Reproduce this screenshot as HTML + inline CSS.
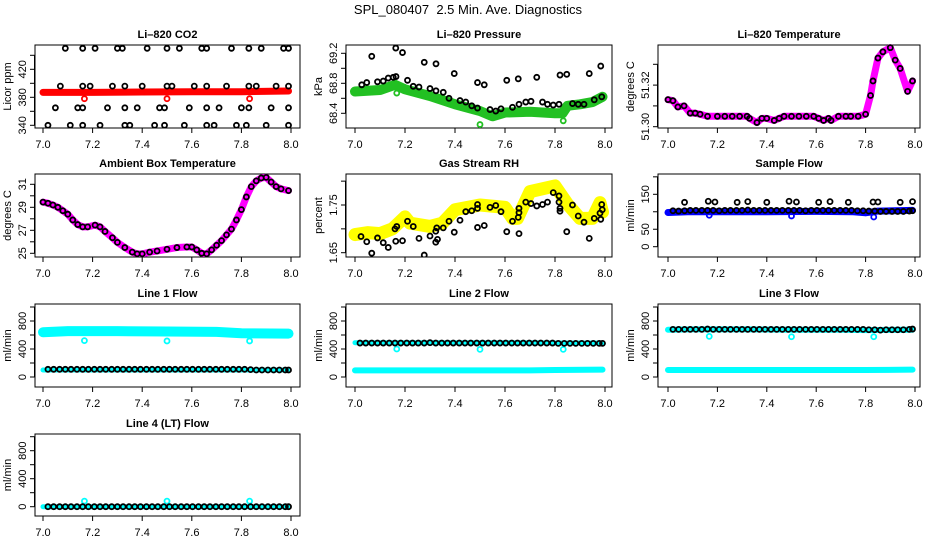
<!DOCTYPE html>
<html><head><meta charset="utf-8">
<style>
html,body{margin:0;padding:0;background:#fff;}
svg{display:block;font-family:"Liberation Sans",Arial,sans-serif;}
.tk{font-size:11px;fill:#000;}
.ttl{font-size:11px;font-weight:bold;fill:#000;}
</style></head>
<body>
<svg id="chart" width="936" height="540" viewBox="0 0 936 540">
<text x="468" y="14" text-anchor="middle" font-size="13">SPL_080407&#160; 2.5 Min. Ave. Diagnostics</text>
</svg>
<script>
// ---------- data ----------
const xTicks = [7.0,7.2,7.4,7.6,7.8,8.0];
const xTickLabels = ["7.0","7.2","7.4","7.6","7.8","8.0"];
const sampleX = [7.02,7.043,7.067,7.09,7.113,7.137,7.16,7.183,7.207,7.23,7.253,7.277,7.3,7.323,7.347,7.37,7.393,7.417,7.44,7.463,7.487,7.51,7.533,7.557,7.58,7.603,7.627,7.65,7.673,7.697,7.72,7.743,7.767,7.79,7.813,7.837,7.86,7.883,7.907,7.93,7.953,7.977,7.99];
const outlierX = [7.167,7.5,7.833];

// CO2
const co2BlackX = [7.09,7.16,7.21,7.30,7.32,7.42,7.50,7.55,7.64,7.66,7.76,7.83,7.88,7.97,7.99, 7.07,7.16,7.19,7.28,7.33,7.40,7.50,7.52,7.61,7.66,7.74,7.83,7.86,7.94,7.99, 7.05,7.14,7.16,7.26,7.33,7.38,7.47,7.49,7.59,7.66,7.71,7.80,7.83,7.92,7.99, 7.02,7.11,7.16,7.23,7.33,7.35,7.45,7.49,7.57,7.66,7.69,7.78,7.82,7.90,7.99];
const co2BlackY = [450,450,450,450,450,450,450,450,450,450,450,450,450,450,450, 396,396,396,396,396,396,396,396,396,396,396,396,396,396,396, 365,365,365,365,365,365,365,365,365,365,365,365,365,365,365, 340,340,340,340,340,340,340,340,340,340,340,340,340,340,340];
const co2BandX = [7.0,7.2,7.4,7.6,7.8,7.99];
const co2BandY = [387,387,387.5,388,388,389];
const co2OutY = [378,378,378];

// Pressure
const presBlackX = [7.027,7.047,7.067,7.09,7.113,7.133,7.153,7.164,7.163,7.19,7.21,7.233,7.256,7.277,7.3,7.324,7.324,7.353,7.376,7.397,7.42,7.443,7.467,7.49,7.49,7.517,7.54,7.563,7.584,7.607,7.63,7.653,7.656,7.683,7.704,7.727,7.75,7.77,7.793,7.816,7.82,7.847,7.87,7.893,7.916,7.937,7.957,7.983,7.987];
const presBlackY = [68.78,68.81,69.16,68.82,68.83,68.87,68.88,68.89,69.27,69.21,68.84,68.76,68.75,69.08,68.73,69.06,68.70,68.68,68.60,68.93,68.57,68.55,68.50,68.47,68.81,68.78,68.45,68.43,68.46,68.84,68.48,68.86,68.52,68.55,68.56,68.88,68.55,68.52,68.51,68.52,68.91,68.92,68.53,68.52,68.52,68.93,68.58,69.03,68.62];
const presBandX = [7.0,7.05,7.1,7.16,7.2,7.3,7.4,7.5,7.55,7.6,7.7,7.8,7.83,7.85,7.9,7.95,7.99];
const presBandY = [68.69,68.70,68.71,68.78,68.72,68.63,68.52,68.43,68.36,68.41,68.42,68.40,68.40,68.50,68.52,68.55,68.62];
const presOutY = [68.67,68.25,68.30];

// Li-820 temperature
const tempX = [7.0,7.02,7.04,7.065,7.09,7.11,7.13,7.16,7.2,7.23,7.26,7.29,7.32,7.33,7.36,7.38,7.4,7.43,7.45,7.47,7.5,7.53,7.56,7.59,7.61,7.63,7.65,7.66,7.69,7.72,7.74,7.77,7.8,7.82,7.83,7.85,7.87,7.9,7.92,7.94,7.97,7.99];
const tempY = [51.313,51.3125,51.3095,51.310,51.3065,51.3065,51.306,51.305,51.305,51.305,51.305,51.305,51.305,51.304,51.302,51.304,51.304,51.303,51.304,51.305,51.305,51.305,51.305,51.305,51.304,51.303,51.304,51.303,51.305,51.305,51.305,51.305,51.306,51.315,51.322,51.333,51.336,51.338,51.332,51.328,51.317,51.322];

// Ambient box temperature
const ambX = [7.0,7.02,7.04,7.06,7.08,7.1,7.12,7.14,7.16,7.18,7.21,7.23,7.25,7.28,7.3,7.33,7.36,7.38,7.4,7.43,7.46,7.5,7.54,7.58,7.6,7.62,7.64,7.66,7.68,7.7,7.72,7.74,7.76,7.78,7.8,7.82,7.84,7.86,7.88,7.9,7.92,7.94,7.96,7.99];
const ambY = [29.45,29.35,29.2,29.0,28.7,28.4,27.9,27.5,27.3,27.3,27.45,27.3,26.9,26.35,25.95,25.5,25.1,24.95,24.95,25.1,25.2,25.35,25.5,25.55,25.55,25.3,25.0,24.95,25.3,25.7,26.1,26.6,27.1,27.9,28.8,29.9,30.8,31.3,31.55,31.6,31.2,30.8,30.6,30.45];

// Gas stream RH
const rhBlackX = [7.024,7.047,7.067,7.09,7.113,7.133,7.16,7.167,7.163,7.19,7.21,7.233,7.256,7.277,7.3,7.323,7.327,7.323,7.33,7.353,7.376,7.397,7.42,7.443,7.467,7.49,7.49,7.49,7.517,7.54,7.563,7.584,7.607,7.63,7.653,7.656,7.656,7.656,7.683,7.704,7.727,7.75,7.77,7.793,7.816,7.816,7.82,7.82,7.847,7.87,7.893,7.916,7.937,7.957,7.98,7.983,7.987,7.989];
const rhBlackY = [1.684,1.673,1.649,1.681,1.671,1.661,1.700,1.705,1.674,1.675,1.716,1.705,1.680,1.645,1.685,1.695,1.702,1.672,1.678,1.702,1.716,1.693,1.718,1.736,1.738,1.751,1.743,1.703,1.707,1.745,1.749,1.736,1.694,1.716,1.724,1.743,1.734,1.690,1.756,1.753,1.748,1.751,1.756,1.776,1.769,1.756,1.743,1.737,1.694,1.750,1.727,1.714,1.680,1.722,1.733,1.720,1.751,1.740];
const rhBandX = [7.0,7.05,7.1,7.15,7.2,7.22,7.3,7.35,7.4,7.5,7.6,7.63,7.65,7.7,7.8,7.85,7.9,7.95,7.98,7.99];
const rhBandY = [1.688,1.692,1.690,1.700,1.725,1.712,1.705,1.712,1.740,1.750,1.745,1.722,1.722,1.778,1.790,1.752,1.722,1.722,1.755,1.735];

// Sample flow
const sfBandX = [7.0,7.08,7.4,7.6,7.75,7.8,7.85,7.99];
const sfBandY = [98,100,100,101,100,97,102,104];
const sfLowY = [103,102,103,104,104,104,104,104,103,104,104,104,104,105,104,104,104,104,104,104,104,104,104,103,104,104,104,104,104,104,104,104,103,103,102,102,101,101,101,101,101,102,103];
const sfHighX = [7.067,7.163,7.19,7.28,7.323,7.40,7.49,7.52,7.61,7.656,7.73,7.83,7.85,7.94,7.99];
const sfHighY = [127,130,128,127,129,127,130,128,127,129,127,128,128,127,129];
const sfOutY = [90,88,85];

// Line flows
const l1HighX = [7.0,7.1,7.3,7.5,7.7,7.8,7.99];
const l1HighY = [640,655,655,650,645,625,620];
const l1LowY = [100,100,100,100,100,100,100];
const l1Black = [110,110,110,110,110,110,110,110,110,110,110,110,110,110,110,110,110,110,110,110,110,110,110,110,110,110,110,110,110,110,110,110,110,110,110,105,100,100,100,100,100,100,100];
const l1OutY = [520,515,515];
const l2HighY = [490,490,490,490,490,485,485];
const l2LowY = [95,95,95,95,95,100,105];
const l2Black = [485,485,485,485,485,485,485,485,485,485,485,485,490,485,485,485,485,485,485,485,485,485,485,485,485,485,485,485,485,485,485,485,485,485,480,480,480,480,480,480,480,480,480];
const l2OutY = [400,395,395];
const l3HighY = [675,680,680,675,675,670,675];
const l3LowY = [100,100,100,100,100,100,105];
const l3Black = [680,680,680,680,680,680,685,680,680,680,680,680,680,680,680,680,680,680,680,680,680,680,680,680,680,680,680,680,680,680,680,680,680,680,675,675,670,675,675,675,675,680,685];
const l3OutY = [580,575,575];
const l4Y = [0,0,0,0,0,0,0];
const l4Black = [0,0,0,0,0,0,0,0,0,0,0,0,0,0,0,0,0,0,0,0,0,0,0,0,0,0,0,0,0,0,0,0,0,0,0,0,0,0,0,0,0,0,0];
const l4OutY = [80,80,80];
const lineBandX = [7.0,7.1,7.3,7.5,7.7,7.8,7.99];

// ---------- layout ----------
const svg = document.getElementById('chart');
const NS = 'http://www.w3.org/2000/svg';
const cols = [{L:35,R:300,x0:43,x1:291},{L:346,R:612,x0:355,x1:605},{L:658,R:920,x0:668,x1:915}];
const rows = [{T:45,B:128},{T:174,B:257},{T:304,B:387},{T:434,B:516}];
function el(tag, attrs, parent){const e=document.createElementNS(NS,tag);for(const k in attrs)e.setAttribute(k,attrs[k]);(parent||svg).appendChild(e);return e;}

function makePanel(p){
  const c=cols[p.col], r=rows[p.row];
  const g=el('g',{});
  
  
  const xs=v=>c.x0+(v-7.0)*(c.x1-c.x0);
  const ys=v=>p.p1+(v-p.v1)*(p.p2-p.p1)/(p.v2-p.v1);
  const box=el('rect',{x:c.L,y:r.T,width:c.R-c.L,height:r.B-r.T,fill:'none',stroke:'#000','stroke-width':1},g);
  
  
  const t=el('text',{x:(c.L+c.R)/2,y:r.T-7,'text-anchor':'middle',class:'ttl'},g);
  t.textContent=p.title;
  
  
  const xa=el('g',{},g);
  
  
  xTicks.forEach((v,i)=>{
    const X=xs(v);
    el('line',{x1:X,x2:X,y1:r.B,y2:r.B+5,stroke:'#000'},xa);
    const tl=el('text',{x:X,y:r.B+20,'text-anchor':'middle',class:'tk'},xa);
    tl.textContent=xTickLabels[i];
    
    
  });
  const ya=el('g',{},g);
  
  
  el('line',{x1:c.L-0.5,x2:c.L-0.5,y1:ys(p.ticks[0]),y2:ys(p.ticks[p.ticks.length-1]),stroke:'#000'},ya);
  p.ticks.forEach(v=>{
    const Y=ys(v);
    el('line',{x1:c.L-5,x2:c.L,y1:Y,y2:Y,stroke:'#000'},ya);
  });
  p.labels.forEach((lab,i)=>{
    const Y=ys(p.labelVals[i]);
    const tl=el('text',{x:0,y:0,'text-anchor':'middle',class:'tk',transform:`translate(${c.L-9},${Y}) rotate(-90)`},ya);
    tl.textContent=lab;
    
    
  });
  const yt=el('text',{x:0,y:0,'text-anchor':'middle',class:'tk',transform:`translate(${c.L-24},${(r.T+r.B)/2}) rotate(-90)`},g);
  yt.textContent=p.ylab;
  
  
  const clip='clip'+p.name;
  const cp=el('clipPath',{id:clip},svg);
  el('rect',{x:c.L,y:r.T-3,width:c.R-c.L,height:r.B-r.T+3},cp);
  const sg=el('g',{'clip-path':`url(#${clip})`},g);
  p.series.forEach(s=>{
    const sgg=el('g',{},sg);
    
    
    if(s.band){
      const pts=s.x.map((v,i)=>xs(v)+','+ys(s.y[i])).join(' ');
      el('polyline',{points:pts,fill:'none',stroke:s.color,'stroke-width':s.band,'stroke-linejoin':'round','stroke-linecap':'round'},sgg);
    }
    if(s.pts!==false){
      s.x.forEach((v,i)=>{
        const ci=el('circle',{cx:xs(v),cy:ys(s.y[i]),r:2.5,fill:'none',stroke:s.color,'stroke-width':1.8},sgg);
        
        
      });
    }
  });
}

const lineTicks=[0,200,400,600,800,1000];
makePanel({name:'co2',title:'Li\u2013820 CO2',col:0,row:0,v1:340,p1:125.3,v2:420,p2:69.3,ticks:[340,360,380,400,420,440],labels:['340','380','420'],labelVals:[340,380,420],ylab:'Licor ppm',
  series:[{name:'co2-band',x:co2BandX,y:co2BandY,color:'#ff0000',band:7,pts:false},{name:'co2-outliers',x:outlierX,y:co2OutY,color:'#ff0000'},{name:'co2-black',x:co2BlackX,y:co2BlackY,color:'#000'}]});
makePanel({name:'pressure',title:'Li\u2013820 Pressure',col:1,row:0,v1:68.4,p1:113.3,v2:69.2,p2:53.3,ticks:[68.4,68.6,68.8,69.0,69.2],labels:['68.4','68.8','69.2'],labelVals:[68.4,68.8,69.2],ylab:'kPa',
  series:[{name:'pressure-band',x:presBandX,y:presBandY,color:'#22c022',band:10,pts:false},{name:'pressure-outliers',x:outlierX,y:presOutY,color:'#22c022'},{name:'pressure-black',x:presBlackX,y:presBlackY,color:'#000'}]});
makePanel({name:'li820-temp',title:'Li\u2013820 Temperature',col:2,row:0,v1:51.30,p1:126.7,v2:51.33,p2:64.3,ticks:[51.30,51.31,51.32,51.33],labels:['51.30','51.32'],labelVals:[51.30,51.32],ylab:'degrees C',
  series:[{name:'li820-temp-band',x:tempX,y:tempY,color:'#ff00ff',band:7,pts:false},{name:'li820-temp-black',x:tempX,y:tempY,color:'#000'}]});
makePanel({name:'ambient',title:'Ambient Box Temperature',col:0,row:1,v1:25,p1:253.3,v2:31,p2:184.3,ticks:[25,26,27,28,29,30,31],labels:['25','27','29','31'],labelVals:[25,27,29,31],ylab:'degrees C',
  series:[{name:'ambient-band',x:ambX,y:ambY,color:'#ff00ff',band:7,pts:false},{name:'ambient-black',x:ambX,y:ambY,color:'#000'}]});
makePanel({name:'rh',title:'Gas Stream RH',col:1,row:1,v1:1.65,p1:252.7,v2:1.75,p2:205,ticks:[1.65,1.70,1.75,1.80],labels:['1.65','1.75'],labelVals:[1.65,1.75],ylab:'percent',
  series:[{name:'rh-band',x:rhBandX,y:rhBandY,color:'#ffff00',band:13,pts:false},{name:'rh-black',x:rhBlackX,y:rhBlackY,color:'#000'}]});
makePanel({name:'sample-flow',title:'Sample Flow',col:2,row:1,v1:0,p1:246.7,v2:150,p2:194.3,ticks:[0,50,100,150,200],labels:['0','50','150'],labelVals:[0,50,150],ylab:'ml/min',
  series:[{name:'sample-flow-band',x:sfBandX,y:sfBandY,color:'#0000ff',band:7,pts:false},{name:'sample-flow-outliers',x:outlierX,y:sfOutY,color:'#0000ff'},{name:'sample-flow-black',x:sampleX,y:sfLowY,color:'#000'},{name:'sample-flow-black-high',x:sfHighX,y:sfHighY,color:'#000'}]});
makePanel({name:'line1',title:'Line 1 Flow',col:0,row:2,v1:0,p1:377,v2:800,p2:321,ticks:lineTicks,labels:['0','400','800'],labelVals:[0,400,800],ylab:'ml/min',
  series:[{name:'line1-high-band',x:lineBandX,y:l1HighY,color:'#00ffff',band:10,pts:false},{name:'line1-low-band',x:lineBandX,y:l1LowY,color:'#00ffff',band:5,pts:false},{name:'line1-outliers',x:outlierX,y:l1OutY,color:'#00ffff'},{name:'line1-black',x:sampleX,y:l1Black,color:'#000'}]});
makePanel({name:'line2',title:'Line 2 Flow',col:1,row:2,v1:0,p1:377,v2:800,p2:321,ticks:lineTicks,labels:['0','400','800'],labelVals:[0,400,800],ylab:'ml/min',
  series:[{name:'line2-high-band',x:lineBandX,y:l2HighY,color:'#00ffff',band:5,pts:false},{name:'line2-low-band',x:lineBandX,y:l2LowY,color:'#00ffff',band:6,pts:false},{name:'line2-outliers',x:outlierX,y:l2OutY,color:'#00ffff'},{name:'line2-black',x:sampleX,y:l2Black,color:'#000'}]});
makePanel({name:'line3',title:'Line 3 Flow',col:2,row:2,v1:0,p1:377,v2:800,p2:321,ticks:lineTicks,labels:['0','400','800'],labelVals:[0,400,800],ylab:'ml/min',
  series:[{name:'line3-high-band',x:lineBandX,y:l3HighY,color:'#00ffff',band:6,pts:false},{name:'line3-low-band',x:lineBandX,y:l3LowY,color:'#00ffff',band:6,pts:false},{name:'line3-outliers',x:outlierX,y:l3OutY,color:'#00ffff'},{name:'line3-black',x:sampleX,y:l3Black,color:'#000'}]});
makePanel({name:'line4',title:'Line 4 (LT) Flow',col:0,row:3,v1:0,p1:506.7,v2:800,p2:450.7,ticks:lineTicks,labels:['0','400','800'],labelVals:[0,400,800],ylab:'ml/min',
  series:[{name:'line4-band',x:lineBandX,y:l4Y,color:'#00ffff',band:5,pts:false},{name:'line4-outliers',x:outlierX,y:l4OutY,color:'#00ffff'},{name:'line4-black',x:sampleX,y:l4Black,color:'#000'}]});
</script>
</body></html>
